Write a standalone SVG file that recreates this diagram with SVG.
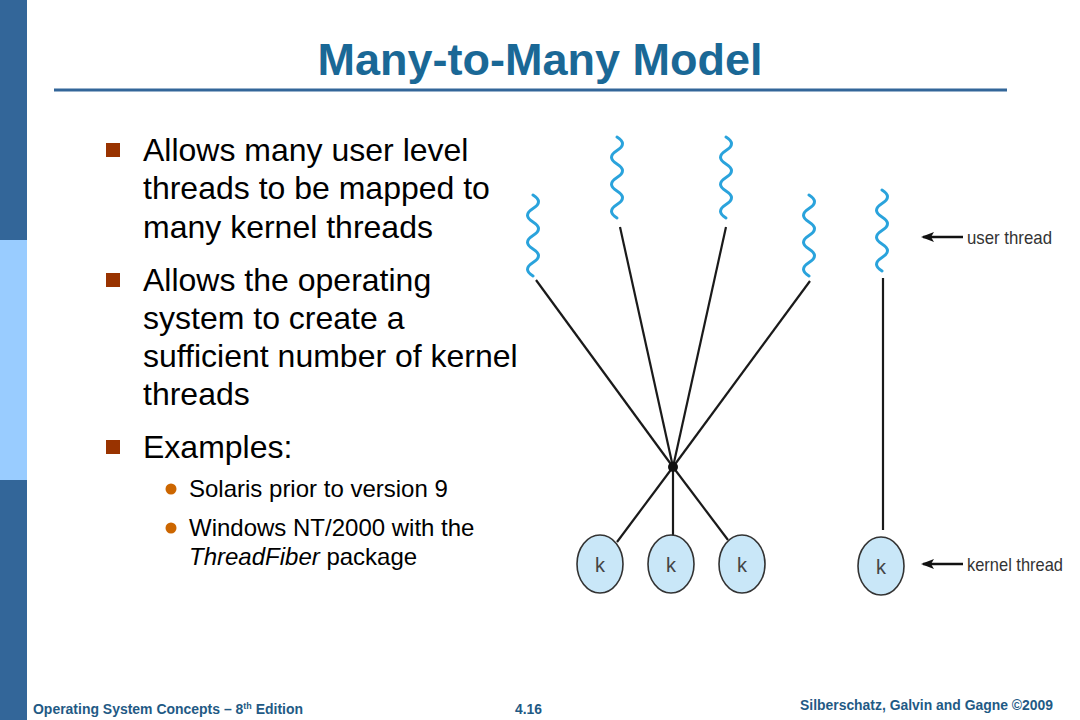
<svg xmlns="http://www.w3.org/2000/svg" width="1080" height="720" viewBox="0 0 1080 720">
<style>
.body{font-family:"Liberation Sans",Arial,sans-serif;font-size:32px;fill:#000}
.sub{font-family:"Liberation Sans",Arial,sans-serif;font-size:24px;fill:#000}
.foot{font-family:"Liberation Sans",Arial,sans-serif;font-size:14px;font-weight:bold;fill:#1f5a85}
.wave{fill:none;stroke:#2aa3dc;stroke-width:3;stroke-linecap:round}
.link{stroke:#1a1a1a;stroke-width:2.2;fill:none}
.kc{fill:#c9e7f8;stroke:#333;stroke-width:1.6}
.kt{font-family:"Liberation Sans",Arial,sans-serif;font-size:20px;fill:#444;text-anchor:middle}
.lbl{font-family:"Liberation Sans",Arial,sans-serif;font-size:19px;fill:#333}
.arr{stroke:#111;stroke-width:2.4;fill:none}
</style>
<defs>
<marker id="ah" markerWidth="13" markerHeight="10" refX="11" refY="5" orient="auto" markerUnits="userSpaceOnUse">
<path d="M13,5 L0,0 L3,5 L0,10 Z" fill="#111"/>
</marker>
<path id="wv" d="M0,0 q11,6.75 0,13.5 q-11,6.75 0,13.5 q11,6.75 0,13.5 q-11,6.75 0,13.5 q11,6.75 0,13.5 q-11,6.75 0,13.5"/>
</defs>
<rect width="1080" height="720" fill="#fff"/>
<rect x="0" y="0" width="27" height="240" fill="#336699"/>
<rect x="0" y="240" width="27" height="240" fill="#99ccff"/>
<rect x="0" y="480" width="27" height="240" fill="#336699"/>
<g id="title">
<text x="540" y="75" text-anchor="middle" style="font-family:'Liberation Sans',Arial,sans-serif;font-size:45px;font-weight:bold;fill:#1a6896">Many-to-Many Model</text>
<line x1="54" y1="90" x2="1007" y2="90" stroke="#336699" stroke-width="3"/>
</g>
<g id="bullets">
<rect x="106" y="143" width="14" height="14" fill="#993300"/>
<rect x="106" y="273" width="14" height="14" fill="#993300"/>
<rect x="106" y="440" width="14" height="14" fill="#993300"/>
<text class="body" x="143" y="161">Allows many user level</text>
<text class="body" x="143" y="199">threads to be mapped to</text>
<text class="body" x="143" y="238">many kernel threads</text>
<text class="body" x="143" y="291">Allows the  operating</text>
<text class="body" x="143" y="329">system to create a</text>
<text class="body" x="143" y="367">sufficient number of kernel</text>
<text class="body" x="143" y="405">threads</text>
<text class="body" x="143" y="458">Examples:</text>
<circle cx="171" cy="489" r="5.5" fill="#cc6600"/>
<circle cx="171" cy="528" r="5.5" fill="#cc6600"/>
<text class="sub" x="189" y="497">Solaris prior to version 9</text>
<text class="sub" x="189" y="536">Windows NT/2000 with the</text>
<text class="sub" x="189" y="565"><tspan font-style="italic">ThreadFiber</tspan> package</text>
</g>
<g id="user-threads">
<use href="#wv" x="533" y="195" class="wave"/>
<use href="#wv" x="617" y="137" class="wave"/>
<use href="#wv" x="726" y="137" class="wave"/>
<use href="#wv" x="809" y="195" class="wave"/>
<use href="#wv" x="882" y="190" class="wave"/>
</g>
<g id="connectors">
<line class="link" x1="536" y1="280" x2="673" y2="467"/>
<line class="link" x1="620" y1="227" x2="673" y2="467"/>
<line class="link" x1="726" y1="227" x2="673" y2="467"/>
<line class="link" x1="810" y1="281" x2="673" y2="467"/>
<line class="link" x1="673" y1="467" x2="617" y2="542"/>
<line class="link" x1="673" y1="467" x2="673" y2="535"/>
<line class="link" x1="673" y1="467" x2="728" y2="540"/>
<line class="link" x1="883" y1="278" x2="883" y2="530"/>
<circle cx="673" cy="467" r="5" fill="#111"/>
</g>
<g id="kernel-threads">
<g id="k1"><ellipse class="kc" cx="600" cy="564" rx="23" ry="29"/><text class="kt" x="600" y="572">k</text></g>
<g id="k2"><ellipse class="kc" cx="671" cy="564" rx="23" ry="29"/><text class="kt" x="671" y="572">k</text></g>
<g id="k3"><ellipse class="kc" cx="742" cy="564" rx="23" ry="29"/><text class="kt" x="742" y="572">k</text></g>
<g id="k4"><ellipse class="kc" cx="881" cy="566" rx="23" ry="29"/><text class="kt" x="881" y="574">k</text></g>
</g>
<g id="labels">
<line class="arr" x1="963" y1="237" x2="923" y2="237" marker-end="url(#ah)"/>
<text class="lbl" x="967" y="244" textLength="85" lengthAdjust="spacingAndGlyphs">user thread</text>
<line class="arr" x1="963" y1="564" x2="923" y2="564" marker-end="url(#ah)"/>
<text class="lbl" x="967" y="571" textLength="96" lengthAdjust="spacingAndGlyphs">kernel thread</text>
</g>
<g id="footer">
<text class="foot" x="33" y="714" textLength="270" lengthAdjust="spacingAndGlyphs">Operating System Concepts – 8<tspan font-size="9" dy="-5">th</tspan><tspan dy="5"> Edition</tspan></text>
<text class="foot" x="515" y="714" textLength="27" lengthAdjust="spacingAndGlyphs">4.16</text>
<text class="foot" x="800" y="710" textLength="253" lengthAdjust="spacingAndGlyphs">Silberschatz, Galvin and Gagne ©2009</text>
</g>
</svg>
